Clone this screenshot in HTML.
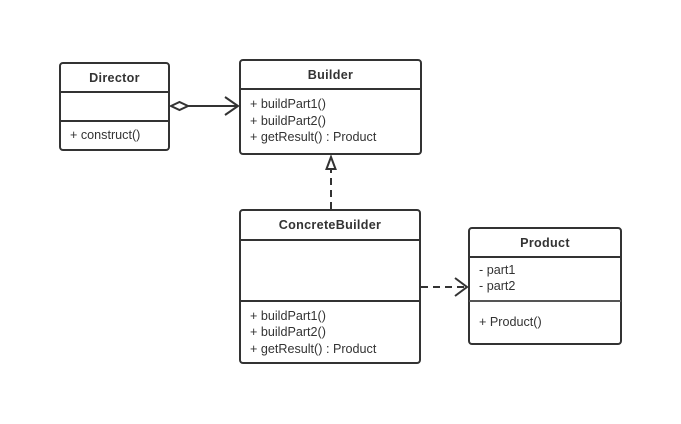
<!DOCTYPE html>
<html><head><style>html,body{margin:0;padding:0;background:#fff;}svg{display:block}</style></head>
<body>
<svg width="681" height="424" xmlns="http://www.w3.org/2000/svg" font-family="Liberation Sans, sans-serif" font-size="12.6" fill="#333">
<g fill="#fff" stroke="#333" stroke-width="2">
<rect x="60" y="63" width="109" height="87" rx="3"/>
<rect x="240" y="60" width="181" height="94" rx="3"/>
<rect x="240" y="210" width="180" height="153" rx="3"/>
<rect x="469" y="228" width="152" height="116" rx="3"/>
</g>
<g stroke="#333" stroke-width="2">
<line x1="60" y1="92" x2="169" y2="92"/>
<line x1="60" y1="121" x2="169" y2="121"/>
<line x1="240" y1="89" x2="421" y2="89"/>
<line x1="240" y1="240" x2="420" y2="240"/>
<line x1="240" y1="301" x2="420" y2="301"/>
<line x1="469" y1="257" x2="621" y2="257"/>
</g>
<line x1="469" y1="301" x2="621" y2="301" stroke="#555" stroke-width="2"/>
<g font-weight="bold" text-anchor="middle" fill="#333" letter-spacing="0.3">
<text x="114.5" y="82">Director</text>
<text x="330.5" y="79">Builder</text>
<text x="330" y="229">ConcreteBuilder</text>
<text x="545" y="247">Product</text>
</g>
<g fill="#333">
<text x="70" y="139">+ construct()</text>
<text x="250" y="108">+ buildPart1()</text>
<text x="250" y="125">+ buildPart2()</text>
<text x="250" y="141">+ getResult() : Product</text>
<text x="250" y="320">+ buildPart1()</text>
<text x="250" y="336">+ buildPart2()</text>
<text x="250" y="353">+ getResult() : Product</text>
<text x="479" y="274">- part1</text>
<text x="479" y="290">- part2</text>
<text x="479" y="326">+ Product()</text>
</g>
<g stroke="#333" stroke-width="2" fill="none">
<polygon points="171,106 179.5,102 188,106 179.5,110" fill="#fff"/>
<line x1="188" y1="106" x2="238" y2="106"/>
<polyline points="225,97 238,106 225,115"/>
<line x1="331" y1="209" x2="331" y2="170" stroke-dasharray="7,5"/>
<polygon points="331,157 326.5,169 335.5,169" fill="#fff"/>
<line x1="421" y1="287" x2="465" y2="287" stroke-dasharray="7,5"/>
<polyline points="455,278 467,287 455,296"/>
</g>
</svg>
</body></html>
